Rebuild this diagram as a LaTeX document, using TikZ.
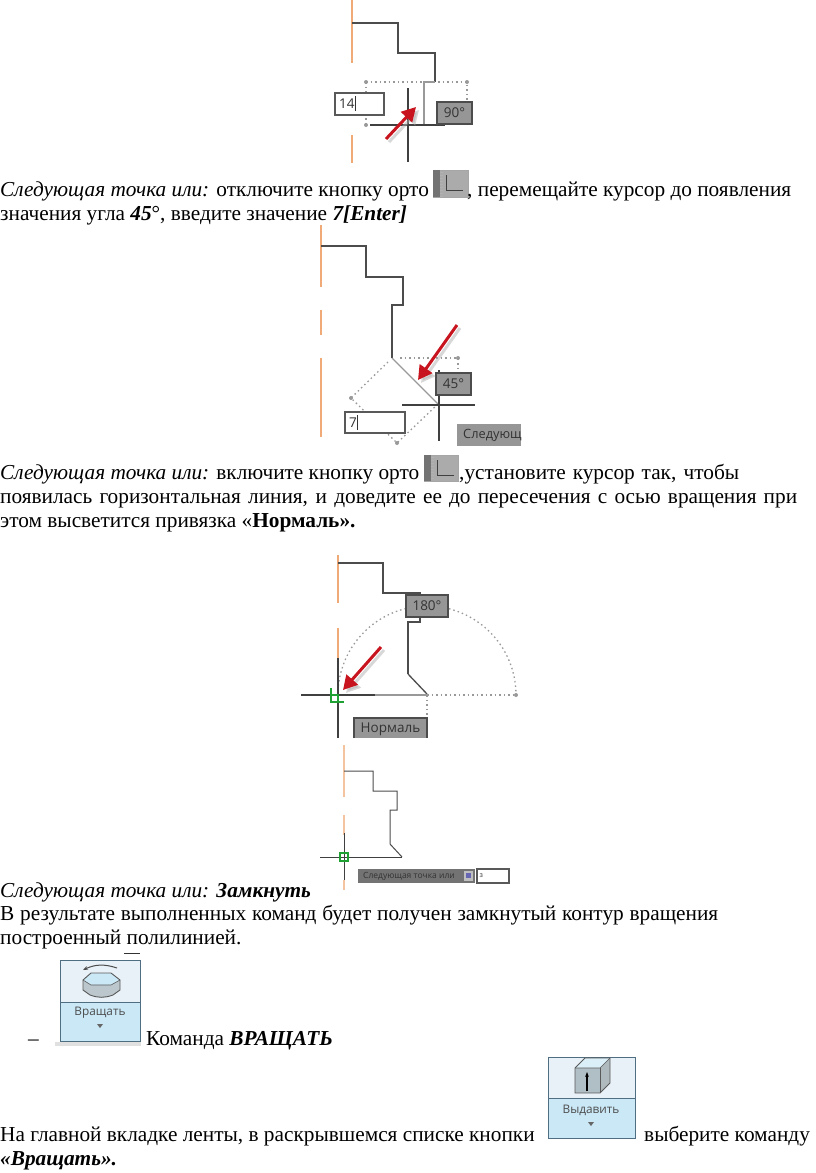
\documentclass[tikz,border=0pt]{standalone}
\usepackage{fontspec}
\setmainfont{Liberation Serif}
\newfontfamily\uifont{Open Sans}
\usetikzlibrary{arrows.meta}
\definecolor{axisorange}{RGB}{240,170,120}
\definecolor{tipgray}{RGB}{150,150,150}
\definecolor{ribbonblue}{RGB}{203,232,246}
\definecolor{ribbontop}{RGB}{232,241,247}
\definecolor{ribbonline}{RGB}{80,110,130}
\definecolor{arrowred}{RGB}{200,20,30}
\definecolor{snapgreen}{RGB}{30,160,50}
\tikzset{
  para/.style={anchor=base west, inner sep=0pt, font=\fontsize{21.3}{23}\selectfont},
  cadline/.style={draw=black!70, line width=1.3pt},
  thinline/.style={draw=black!40, line width=1.3pt},
  crossline/.style={draw=black!75, line width=1.3pt},
  axisline/.style={draw=axisorange, line width=1.5pt},
  dotline/.style={draw=black!40, line width=1.3pt, dash pattern=on 1.5pt off 3pt},
  tipbox/.style={draw=black!70, fill=tipgray, line width=1.2pt, inner sep=0pt, text=black!80, font=\uifont\fontsize{13.5}{14}\selectfont},
  inputbox/.style={draw=black!65, fill=white, line width=1.2pt, inner sep=0pt, text=black!80, font=\uifont\fontsize{13.5}{14}\selectfont},
  redarrow/.style={draw=arrowred, line width=3pt, -{Triangle[length=14pt,width=15pt]}},
  redshadow/.style={draw=black!30, line width=3pt, opacity=.5, -{Triangle[length=14pt,width=15pt]}},
  ribbonbutton/.style={draw=ribbonline, line width=1pt, inner sep=0pt},
  ribbontext/.style={inner sep=0pt, text=black!70, font=\uifont\fontsize{11.8}{12}\selectfont},
  ortobutton/.style={draw=black!35, fill=black!33, line width=.6pt},
}
\begin{document}
\begin{tikzpicture}[x=1pt,y=-1pt]
\useasboundingbox (0,0) rectangle (816,1173);

% first sketch
\draw[axisline] (352,0) -- (352,63);
\draw[axisline] (352,135) -- (352,163);
\draw[dotline] (366,82) -- (467,82) -- (467,102);
\draw[dotline] (366,82) -- (366,125);
\fill[black!40] (366,82) circle (2pt);
\fill[black!40] (467,82) circle (2pt);
\fill[black!40] (366,125) circle (2pt);
\draw[cadline] (352,23) -- (398,23) -- (398,53) -- (435,53) -- (435,82);
\draw[thinline] (435,82) -- (424,82) -- (424,125);
\draw[crossline] (408,88) -- (408,162);
\draw[crossline] (370,125) -- (445,125);
\node[inputbox, minimum width=49pt, minimum height=22pt] (inputA) at (359.5,104) {};
\node[inner sep=0pt, anchor=west, text=black!80, font=\uifont\fontsize{13.5}{14}\selectfont] (inputAtext) at (339,104) {14};
\draw[black!80, line width=.8pt] (355,96) -- (355,111);
\node[tipbox, minimum width=35pt, minimum height=22pt] (tipA) at (454.5,113) {90°};
\draw[redshadow] (389,142) -- (419,110);
\draw[redarrow] (386,139) -- (416,107);

% text
\node[para] (lineA) at (0,196) {\textit{Следующая точка или:} отключите кнопку орто};
\draw[ortobutton] (433,170) rectangle (468,197);
\fill[black!55] (433,170) rectangle (440,197);
\foreach \y in {172,175,...,196} \draw[black!30, line width=.6pt] (440,\y) -- (443,\y);
\draw[black!75, line width=.9pt] (446,175) -- (446,190) -- (463,190);
\node[para] (lineB) at (467,196) {, перемещайте курсор до появления};
\node[para] (lineC) at (0,220) {значения угла \textbf{\textit{45}}°, введите значение \textbf{\textit{7[Enter]}}};

% second sketch
\draw[axisline] (321,225) -- (321,287);
\draw[axisline] (321,310) -- (321,335);
\draw[axisline] (321,358) -- (321,437);
\draw[dotline] (400,358) -- (458,358) -- (458,373);
\draw[dotline] (388,362) -- (351,398) -- (397,443) -- (438,404);
\fill[black!40] (458,358) circle (2pt);
\fill[black!40] (351,398) circle (2pt);
\fill[black!40] (397,443) circle (2pt);
\draw[cadline] (321,246) -- (366,246) -- (366,277) -- (403,277) -- (403,305) -- (392,305) -- (392,358);
\draw[thinline] (392,358) -- (438,404);
\draw[crossline] (439,370) -- (439,441);
\draw[crossline] (402,405) -- (475,405);
\node[tipbox, minimum width=35pt, minimum height=22pt] (tipB) at (453.5,384) {45°};
\node[inputbox, minimum width=60pt, minimum height=21pt] (inputB) at (375,422.5) {};
\node[inner sep=0pt, anchor=west, text=black!80, font=\uifont\fontsize{13.5}{14}\selectfont] (inputBtext) at (349,422.5) {7};
\draw[black!80, line width=.8pt] (357.5,415) -- (357.5,430);
\fill[tipgray] (457,424) rectangle (521,446);
\node[inner sep=0pt, anchor=west, text=black!80, font=\uifont\fontsize{12.8}{14}\selectfont] (tipC) at (463,435) {Следующ};
\draw[redshadow] (460,328) -- (421,383);
\draw[redarrow] (457,325) -- (418,380);

% text
\node[para] (lineD) at (0,479) {\textit{Следующая точка или:} включите кнопку орто};
\draw[ortobutton] (424,455) rectangle (458,481);
\fill[black!55] (424,455) rectangle (431,481);
\foreach \y in {457,460,...,480} \draw[black!30, line width=.6pt] (431,\y) -- (434,\y);
\draw[black!75, line width=.9pt] (437,460) -- (437,475) -- (454,475);
\node[para] (lineE) at (459,479) {\makebox[280pt][s]{,установите курсор так, чтобы}};
\node[para] (lineF) at (0,503) {\makebox[797pt][s]{появилась горизонтальная линия, и доведите ее до пересечения с осью вращения при}};
\node[para] (lineG) at (0,527) {этом высветится привязка «\textbf{Нормаль».}};

% third sketch
\draw[axisline] (338,555) -- (338,603);
\draw[axisline] (338,628) -- (338,658);
\draw[dotline] (338,695) arc (180:360:89);
\draw[dotline] (427,695) -- (516,695);
\draw[dotline] (427,695) -- (427,718);
\fill[black!40] (516,695) circle (2pt);
\draw[cadline] (338,563) -- (383,563) -- (383,593) -- (420,593) -- (420,622) -- (408,622) -- (408,674);
\draw[cadline] (408,674) -- (427,694);
\draw[thinline] (375,695) -- (427,695);
\draw[crossline] (338,658) -- (338,738);
\draw[crossline] (301,695) -- (375,695);
\draw[snapgreen, line width=1.6pt] (331,688) -- (331,702) -- (344,702);
\draw[snapgreen, line width=1.6pt] (331,695) -- (338,695) -- (338,702);
\node[tipbox, minimum width=42pt, minimum height=22pt] (tipD) at (427,606) {180°};
\fill[tipgray] (354,718) rectangle (427,738);
\draw[black!70, line width=1.2pt] (354,738) -- (354,718) -- (427,718) -- (427,738);
\node[tipbox, draw=none, fill=none] (tipE) at (390.5,729) {Нормаль};
\draw[redshadow] (384,650) -- (346,693);
\draw[redarrow] (381,647) -- (343,690);

% fourth sketch
\draw[axisline, draw=axisorange!70, line width=1.2pt] (344,745) -- (344,797);
\draw[axisline, draw=axisorange!70, line width=1.2pt] (344,815) -- (344,835);
\draw[axisline, draw=axisorange!70, line width=1.2pt] (344,880) -- (344,890);
\draw[cadline, line width=1pt] (344,771) -- (373,771) -- (373,791) -- (397,791) -- (397,810) -- (390,810) -- (390,844) -- (402,857);
\draw[crossline, line width=1pt] (344,833) -- (344,880);
\draw[crossline, line width=1pt] (320,857) -- (402,857);
\draw[snapgreen, line width=1.4pt] (340,853) rectangle (348,861);
\fill[black!55] (358,869) rectangle (475,883);
\node[inner sep=0pt, anchor=west, text=black!80, font=\uifont\fontsize{8.5}{9}\selectfont] (tipF) at (363,876) {Следующая точка или};
\fill[black!25] (464,871) rectangle (473,881);
\fill[blue!50!black!60] (466,873) rectangle (471,878);
\node[inputbox, minimum width=32pt, minimum height=14pt, text width=27pt, align=left, font=\uifont\fontsize{7}{7}\selectfont] (inputF) at (493,876) {з};

% text
\node[para] (lineH) at (0,897) {\textit{Следующая точка или:} \textbf{\textit{Замкнуть}}};
\node[para] (lineI) at (0,920) {\makebox[718pt][s]{В результате выполненных команд будет получен замкнутый контур вращения}};
\node[para] (lineJ) at (0,944) {построенный полилинией.};
\draw[black!80, line width=.8pt] (124,953) -- (140,953);

% rotate button
\fill[black!12] (55,1042) rectangle (141,1046);
\fill[ribbontop] (60,960) rectangle (140,1002);
\fill[ribbonblue] (60,1002) rectangle (140,1041);
\draw[ribbonbutton] (60,960) rectangle (140,1041);
\draw[ribbonline] (60,1002) -- (140,1002);
\draw[black!70, line width=1pt, -{Stealth[length=5pt]}] (117,968) to[bend right=22] (83,970);
\fill[ribbonblue!70!black!60] (83,980) -- (91,973) -- (111,973) -- (120,980) -- (120,990) -- (113,995) to[bend left=20] (90,995) -- (83,990) -- cycle;
\fill[ribbonblue] (83,980) -- (91,973) -- (111,973) -- (120,980) -- (111,985) -- (91,985) -- cycle;
\draw[black!65, line width=.9pt] (83,980) -- (91,973) -- (111,973) -- (120,980) -- (120,990) -- (113,995) to[bend left=20] (90,995) -- (83,990) -- cycle;
\draw[black!65, line width=.6pt] (83,980) -- (91,985) -- (111,985) -- (120,980);
\node[ribbontext] (rotateLabel) at (100,1013) {Вращать};
\fill[black!60] (97,1024) -- (103,1024) -- (100,1028) -- cycle;

% text
\node[para] (lineK) at (28,1045) {–};
\node[para] (lineL) at (146,1045) {Команда \textbf{\textit{ВРАЩАТЬ}}};

% extrude button
\fill[ribbontop] (548,1057) rectangle (635,1098);
\fill[ribbonblue] (548,1098) rectangle (635,1138);
\draw[ribbonbutton] (548,1057) rectangle (635,1138);
\draw[ribbonline] (548,1098) -- (635,1098);
\fill[ribbonblue!70!black!70] (575,1068) rectangle (600,1093);
\fill[ribbonblue!70!white] (575,1068) -- (585,1058) -- (610,1058) -- (600,1068) -- cycle;
\fill[ribbonblue!60!black!60] (600,1068) -- (610,1058) -- (610,1083) -- (600,1093) -- cycle;
\draw[black!65, line width=.8pt] (575,1093) -- (575,1068) -- (585,1058) -- (610,1058) -- (610,1083) -- (600,1093) -- cycle;
\draw[black!65, line width=.6pt] (575,1068) -- (600,1068) -- (610,1058);
\draw[black!65, line width=.6pt] (600,1068) -- (600,1093);
\draw[black, line width=1.3pt, -{Stealth[length=5pt]}] (587,1091) -- (587,1072);
\node[ribbontext] (extrudeLabel) at (591,1110) {Выдавить};
\fill[black!60] (588,1122) -- (594,1122) -- (591,1126) -- cycle;

% text
\node[para] (lineM) at (0,1141) {На главной вкладке ленты, в раскрывшемся списке кнопки};
\node[para] (lineN) at (644,1141) {выберите команду};
\node[para] (lineO) at (0,1165) {\textbf{\textit{«Вращать».}}};
\end{tikzpicture}
\end{document}
